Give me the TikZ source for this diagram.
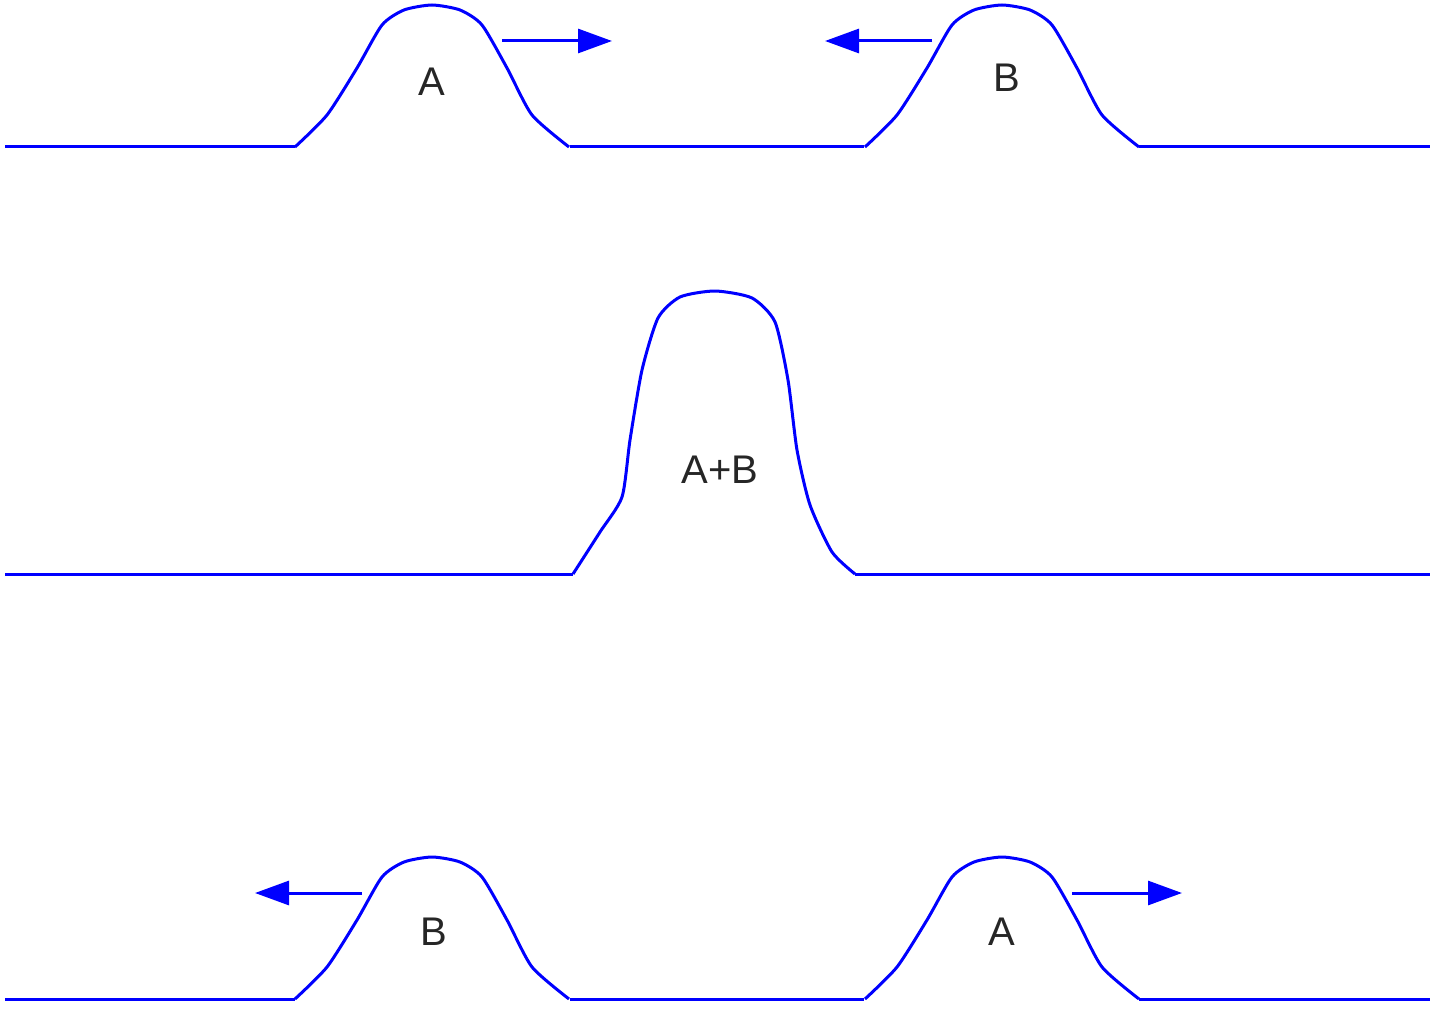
\documentclass[tikz,border=0pt]{standalone}
\usepackage{fontspec}
\setmainfont{Liberation Sans}
\usetikzlibrary{arrows.meta}
\begin{document}
\begin{tikzpicture}[x=1pt,y=-1pt,
  wave/.style={blue,line width=3pt,line join=round},
  arr/.style={blue,line width=3pt,-{Triangle[length=34pt,width=24pt]}},
  lbl/.style={font=\fontsize{40}{42}\selectfont,text=black!85}]
\useasboundingbox (0,0) rectangle (1440,1016);
\newcommand{\pulse}[2]{%
  \draw[wave] plot[smooth,tension=0.4] coordinates {(#1-137,#2) (#1-105,#2-32) (#1-75,#2-79) (#1-50,#2-122) (#1-28,#2-137) (#1,#2-142) (#1+28,#2-137) (#1+50,#2-122) (#1+75,#2-79) (#1+100,#2-32) (#1+137,#2)};}
% top row
\draw[wave] (5,147) -- (295,147) (570,147) -- (864,147) (1139,147) -- (1430,147);
\pulse{432}{147}\pulse{1002}{147}
\node[lbl] (la) at (432,82) {A};
\node[lbl] (lb) at (1007,78) {B};
\coordinate (a1) at (502,41); \coordinate (a2) at (612,41);
\coordinate (b1) at (932,41); \coordinate (b2) at (825,41);
\draw[arr] (a1) -- (a2); \draw[arr] (b1) -- (b2);
% middle row
\draw[wave] (5,574) -- (573,574);
\draw[wave] (855,574) -- (1430,574);
\draw[wave] plot[smooth,tension=0.4] coordinates {(573,574) (600,532) (622,497) (630,440) (642,370) (658,318) (680,297) (715,291) (752,298) (775,322) (788,380) (797,450) (810,505) (832,552) (855,574)};
\node[lbl] (lab) at (720,470) {A+B};
% bottom row
\draw[wave] (5,999) -- (295,999) (570,999) -- (864,999) (1139,999) -- (1430,999);
\pulse{432}{999}\pulse{1002}{999}
\node[lbl] (lb2) at (434,932) {B};
\node[lbl] (la2) at (1002,932) {A};
\coordinate (c1) at (362,893); \coordinate (c2) at (255,893);
\coordinate (d1) at (1072,893); \coordinate (d2) at (1182,893);
\draw[arr] (c1) -- (c2); \draw[arr] (d1) -- (d2);
\end{tikzpicture}
\end{document}
